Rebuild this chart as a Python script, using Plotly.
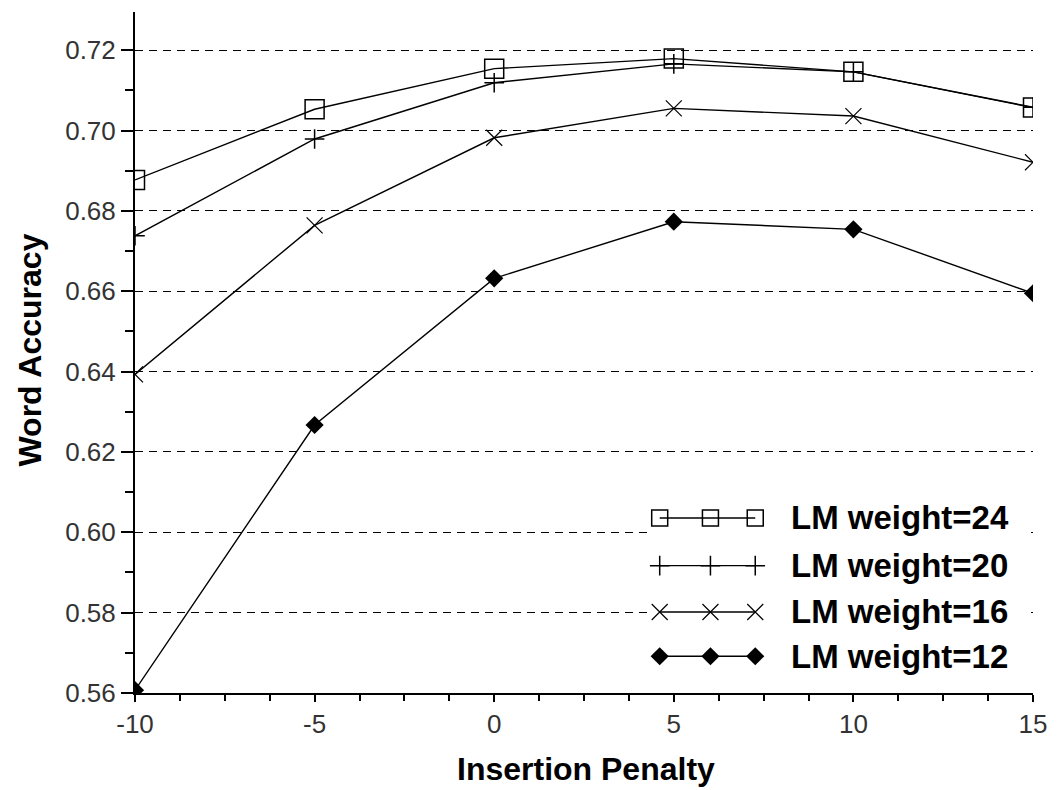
import plotly.graph_objects as go

# Insertion penalty values on the x axis
penalty = [-10, -5, 0, 5, 10, 15]

# Word accuracy for each language-model weight
acc_lm24 = [0.6877, 0.7053, 0.7154, 0.7179, 0.7146, 0.7057]
acc_lm20 = [0.6738, 0.6979, 0.7119, 0.7166, 0.7146, 0.7058]
acc_lm16 = [0.6393, 0.6764, 0.6982, 0.7055, 0.7036, 0.6921]
acc_lm12 = [0.5607, 0.6267, 0.6632, 0.6773, 0.6754, 0.6595]

series_names = ["LM weight=24", "LM weight=20", "LM weight=16", "LM weight=12"]
series_values = [acc_lm24, acc_lm20, acc_lm16, acc_lm12]

y_ticks = [0.56, 0.58, 0.60, 0.62, 0.64, 0.66, 0.68, 0.70, 0.72]
y_tick_text = ["0.56", "0.58", "0.60", "0.62", "0.64", "0.66", "0.68", "0.70", "0.72"]
x_ticks = [-10, -5, 0, 5, 10, 15]

# marker style per series (data points)
styles = [
    dict(symbol="square-open", size=19, color="black", line=dict(width=1.5, color="black")),
    dict(symbol="cross-thin", size=14, color="black", line=dict(width=1.5, color="black")),
    dict(symbol="x-thin", size=16, color="black", line=dict(width=1.2, color="black")),
    dict(symbol="diamond", size=14, color="black", line=dict(width=0, color="black")),
]
# slightly smaller symbols for the legend samples
legend_styles = [
    dict(symbol="square-open", size=16, color="black", line=dict(width=1.5, color="black")),
    dict(symbol="cross-thin", size=14, color="black", line=dict(width=1.5, color="black")),
    dict(symbol="x-thin", size=16, color="black", line=dict(width=1.2, color="black")),
    dict(symbol="diamond", size=14, color="black", line=dict(width=0, color="black")),
]

FONT = "Liberation Sans, Arial, sans-serif"

fig = go.Figure()

for name, vals, mk in zip(series_names, series_values, styles):
    fig.add_trace(go.Scatter(
        x=penalty, y=vals, mode="lines+markers", name=name,
        line=dict(color="black", width=1.4),
        marker=mk, showlegend=False,
    ))

# Legend drawn on an overlay axis spanning the plot area (0..1 in both directions)
legend_box_x = [0.573, 0.995, 0.995, 0.573, 0.573]
legend_box_y = [0.005, 0.005, 0.29, 0.29, 0.005]
fig.add_trace(go.Scatter(
    x=legend_box_x, y=legend_box_y, xaxis="x2", yaxis="y2",
    fill="toself", fillcolor="white", line=dict(width=0),
    mode="lines", hoverinfo="skip", showlegend=False,
))

sample_x = [0.5843, 0.6408, 0.6907]
row_y = [0.257, 0.187, 0.119, 0.054]
for name, mk, ry in zip(series_names, legend_styles, row_y):
    fig.add_trace(go.Scatter(
        x=sample_x, y=[ry] * 3, xaxis="x2", yaxis="y2",
        mode="lines+markers", line=dict(color="black", width=1.4),
        marker=mk, showlegend=False, hoverinfo="skip", cliponaxis=False,
    ))
    fig.add_annotation(
        x=0.7284, y=ry, xref="x2", yref="y2", text=name, showarrow=False,
        xanchor="left", yanchor="middle",
        font=dict(family=FONT, size=33, color="black", weight="bold"),
    )

fig.update_layout(
    width=1059, height=790,
    margin=dict(l=135, r=22, t=12, b=97),
    paper_bgcolor="white", plot_bgcolor="white",
    showlegend=False,
    xaxis=dict(
        range=[-10, 15], tickvals=x_ticks, ticktext=[str(v) for v in x_ticks],
        showgrid=False, zeroline=False,
        showline=True, linecolor="black", linewidth=2,
        ticks="outside", ticklen=7, tickwidth=2, tickcolor="black",
        minor=dict(dtick=1.25, tick0=-10, ticks="outside", ticklen=6, tickwidth=2, tickcolor="black", showgrid=False),
        tickfont=dict(family=FONT, size=26, color="#333"),
    ),
    yaxis=dict(
        range=[0.56, 0.7295], tickvals=y_ticks, ticktext=y_tick_text,
        showgrid=True, gridcolor="black", gridwidth=1, griddash="8px,6px",
        zeroline=False,
        showline=True, linecolor="black", linewidth=2,
        ticks="outside", ticklen=12, tickwidth=2, tickcolor="black",
        minor=dict(dtick=0.01, tick0=0.56, ticks="outside", ticklen=8, tickwidth=2, tickcolor="black", showgrid=False),
        tickfont=dict(family=FONT, size=26, color="#333"),
    ),
    xaxis2=dict(range=[0, 1], overlaying="x", visible=False, fixedrange=True),
    yaxis2=dict(range=[0, 1], overlaying="y", visible=False, fixedrange=True),
)

fig.add_annotation(
    x=0.5, y=0, xref="paper", yref="paper", yshift=-76, xshift=2,
    text="Insertion Penalty", showarrow=False, xanchor="center", yanchor="middle",
    font=dict(family=FONT, size=32, color="black", weight="bold"),
)
fig.add_annotation(
    x=0, y=0.5, xref="paper", yref="paper", xshift=-106, yshift=2,
    text="Word Accuracy", showarrow=False, textangle=-90,
    xanchor="center", yanchor="middle",
    font=dict(family=FONT, size=32, color="black", weight="bold"),
)

fig.write_html("out.html")
